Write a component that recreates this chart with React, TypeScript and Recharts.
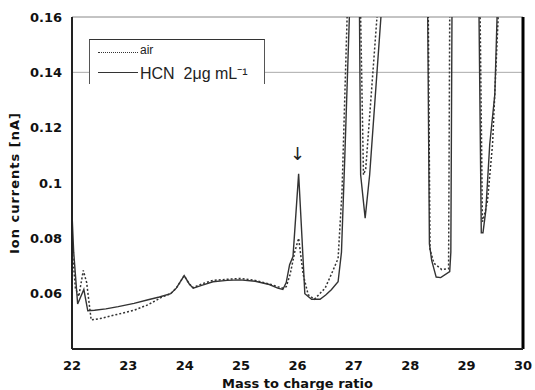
import { LineChart, Line, XAxis, YAxis, ReferenceLine, Label } from "recharts";

// m/z points and ion currents (nA); values above 0.16 run off the top of the plot
const hcnMass = [
  22.0, 22.03, 22.1, 22.21, 22.28, 22.4, 22.6, 22.82, 23.1, 23.35, 23.55, 23.75, 23.85, 23.99,
  24.08, 24.15, 24.3, 24.5, 24.75, 24.98, 25.25, 25.5, 25.65, 25.74, 25.8, 25.86, 25.92, 26.02,
  26.08, 26.13, 26.25, 26.4, 26.5, 26.6, 26.72, 26.78, 26.84, 26.92, 27.0, 27.1, 27.12, 27.2,
  27.28, 27.48, 27.9, 28.31, 28.34, 28.38, 28.46, 28.54, 28.7, 28.72, 28.74, 29.0, 29.22, 29.26,
  29.29, 29.34, 29.41, 29.5, 29.54, 29.8, 30.0,
];
const hcnCurrent = [
  0.089, 0.075, 0.0563, 0.0615, 0.0538, 0.054, 0.0545, 0.0553, 0.0565, 0.0578, 0.0588, 0.06, 0.062, 0.0665,
  0.0635, 0.062, 0.063, 0.0643, 0.0648, 0.065, 0.0645, 0.0633, 0.062, 0.0615, 0.064, 0.0705, 0.0734, 0.1033,
  0.08, 0.06, 0.058, 0.058, 0.0595, 0.0614, 0.0643, 0.075, 0.11, 0.16, 0.3, 0.16, 0.103, 0.0873,
  0.103, 0.16, 0.3, 0.16, 0.078, 0.072, 0.066, 0.0658, 0.068, 0.075, 0.16, 0.3, 0.16, 0.082,
  0.082, 0.09, 0.114, 0.132, 0.16, 0.3, 0.3,
];

const airMass = [
  22.0, 22.06, 22.12, 22.2, 22.26, 22.34, 22.5, 22.8, 23.1, 23.35, 23.6, 23.75, 23.85, 23.99,
  24.08, 24.15, 24.3, 24.5, 24.75, 24.98, 25.25, 25.5, 25.65, 25.74, 25.8, 25.87, 25.95, 26.02,
  26.1, 26.19, 26.3, 26.49, 26.6, 26.72, 26.79, 26.88, 27.0, 27.12, 27.17, 27.21, 27.41, 27.9,
  28.32, 28.35, 28.42, 28.56, 28.68, 28.7, 29.0, 29.24, 29.28, 29.31, 29.37, 29.46, 29.56, 29.8, 30.0,
];
const airCurrent = [
  0.077, 0.062, 0.059, 0.0684, 0.064, 0.0505, 0.051, 0.0525, 0.054, 0.056, 0.0588, 0.06, 0.062, 0.0665,
  0.0635, 0.0622, 0.0635, 0.0648, 0.0652, 0.0655, 0.0648, 0.0635, 0.0625, 0.062, 0.0625, 0.067, 0.075, 0.08,
  0.067, 0.0596, 0.058, 0.062, 0.067, 0.0727, 0.097, 0.16, 0.3, 0.16, 0.103, 0.105, 0.16, 0.3,
  0.16, 0.076, 0.071, 0.0687, 0.069, 0.16, 0.3, 0.16, 0.086, 0.088, 0.0935, 0.114, 0.16, 0.3, 0.3,
];

const xTicks = [22, 23, 24, 25, 26, 27, 28, 29, 30];
const yTicks = [0.06, 0.08, 0.1, 0.12, 0.14, 0.16];

const hcnData = hcnMass.map((m, i) => ({ m, v: hcnCurrent[i] }));
const airData = airMass.map((m, i) => ({ m, v: airCurrent[i] }));

const font = "'DejaVu Sans', sans-serif";
const tickStyle = { fontFamily: font, fontSize: 13, fontWeight: 700, fill: "#111" };

export default function App() {
  return (
    <div style={{ position: "absolute", left: 0, top: 0, width: 535, height: 390, background: "#fff" }}>
      <LineChart width={535} height={390} margin={{ top: 17, right: 12, bottom: 0, left: 0 }}>
        <XAxis
          type="number"
          dataKey="m"
          domain={[22, 30]}
          ticks={xTicks}
          allowDataOverflow
          height={41}
          tick={tickStyle}
          tickLine={false}
          axisLine={{ stroke: "#222", strokeWidth: 2 }}
          tickMargin={6}
        >
          <Label
            value="Mass to charge ratio"
            position="insideBottom"
            offset={2}
            style={{ ...tickStyle, fontSize: 13 }}
          />
        </XAxis>
        <YAxis
          type="number"
          domain={[0.04, 0.16]}
          ticks={yTicks}
          allowDataOverflow
          width={72}
          tick={tickStyle}
          tickLine={false}
          axisLine={{ stroke: "#222", strokeWidth: 2 }}
          tickMargin={4}
          tickFormatter={(v: number) => String(Number(v.toFixed(2)))}
        >
          <Label
            value="Ion currents [nA]"
            angle={-90}
            position="insideLeft"
            offset={14}
            style={{ ...tickStyle, fontSize: 13, letterSpacing: 1, textAnchor: "middle" }}
          />
        </YAxis>
        <ReferenceLine y={0.16} stroke="#888" strokeWidth={1} />
        <ReferenceLine y={0.14} stroke="#aaa" strokeWidth={1} />
        <ReferenceLine x={30} stroke="#000" strokeWidth={3} />
        <Line
          data={airData}
          dataKey="v"
          type="linear"
          stroke="#333"
          strokeWidth={1.5}
          strokeDasharray="2 2"
          dot={false}
          isAnimationActive={false}
        />
        <Line
          data={hcnData}
          dataKey="v"
          type="linear"
          stroke="#333"
          strokeWidth={1.4}
          dot={false}
          isAnimationActive={false}
        />
      </LineChart>
      <div
        style={{
          position: "absolute",
          left: 89,
          top: 39,
          width: 174,
          height: 44,
          background: "#fff",
          borderTop: "1px solid #333",
          borderLeft: "1px solid #555",
          borderRight: "1px solid #555",
          fontFamily: "'Liberation Sans', Arial, sans-serif",
          color: "#222",
        }}
      >
        <div style={{ position: "absolute", left: 8, top: 12, width: 40, borderTop: "1.5px dotted #333" }} />
        <div style={{ position: "absolute", left: 50, top: 3, fontSize: 12 }}>air</div>
        <div style={{ position: "absolute", left: 8, top: 32, width: 40, borderTop: "1.5px solid #333" }} />
        <div style={{ position: "absolute", left: 50, top: 22, fontSize: 16, whiteSpace: "nowrap" }}>
          HCN&nbsp;&nbsp;2μg mL⁻¹
        </div>
      </div>
      <div
        style={{
          position: "absolute",
          left: 290,
          top: 143,
          fontSize: 18,
          fontFamily: "'DejaVu Sans', sans-serif",
          color: "#222",
        }}
      >
        ↓
      </div>
    </div>
  );
}
